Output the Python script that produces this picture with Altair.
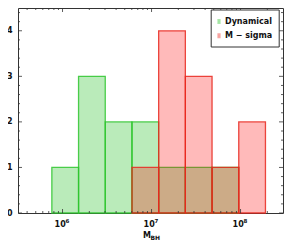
import altair as alt
import pandas as pd

# ---- data ----
edges_log = [5.88, 6.18, 6.48, 6.78, 7.08, 7.38, 7.68, 7.98, 8.28]
dyn_counts = [1, 3, 2, 2, 1, 1, 1, 0]
msig_counts = [0, 0, 0, 1, 4, 3, 1, 2]
series_names = ["Dynamical", "M − sigma"]
fill_colors = ["#00b400", "#ff0000"]
edge_colors = ["#2ec62e", "#e8281e"]

x_label_values = [1e6, 1e7, 1e8]
x_label_base = ["10", "10", "10"]
x_label_exp = ["6", "7", "8"]
x_minor = [4e5, 5e5, 6e5, 7e5, 8e5, 9e5,
           2e6, 3e6, 4e6, 5e6, 6e6, 7e6, 8e6, 9e6,
           2e7, 3e7, 4e7, 5e7, 6e7, 7e7, 8e7, 9e7, 2e8]
y_major = [0, 1, 2, 3, 4]
y_minor = [0.2, 0.4, 0.6, 0.8, 1.2, 1.4, 1.6, 1.8, 2.2, 2.4, 2.6, 2.8,
           3.2, 3.4, 3.6, 3.8, 4.2, 4.4]
x_domain = [3.16e5, 3.0e8]
y_domain = [0, 4.5]

W, H = 265, 205
FONT = "DejaVu Sans"
FRAME = "#333333"
TXT = "#111111"

rows = []
for name, counts in zip(series_names, [dyn_counts, msig_counts]):
    for i, c in enumerate(counts):
        if c > 0:
            rows.append({"series": name, "lo": 10 ** edges_log[i],
                         "hi": 10 ** edges_log[i + 1], "count": c, "base": 0})
bars_df = pd.DataFrame(rows)

xscale = alt.Scale(type="log", domain=x_domain, nice=False)
yscale = alt.Scale(domain=y_domain, nice=False)

yaxis = alt.Axis(
    values=y_major, ticks=False, domain=False, grid=False, title=None,
    labelFont=FONT, labelFontWeight="bold", labelFontSize=8,
    labelColor=TXT, labelPadding=6)

bars = alt.Chart(bars_df).mark_bar(
    fillOpacity=0.27, strokeWidth=1.3, strokeOpacity=0.85
).encode(
    x=alt.X("lo:Q", scale=xscale, axis=None),
    x2="hi:Q",
    y=alt.Y("count:Q", scale=yscale, axis=yaxis),
    y2="base:Q",
    fill=alt.Fill("series:N", scale=alt.Scale(domain=series_names, range=fill_colors),
                  legend=alt.Legend(title=None)),
    stroke=alt.Stroke("series:N", scale=alt.Scale(domain=series_names, range=edge_colors),
                      legend=alt.Legend(title=None)),
)

# inward ticks
xmaj_df = pd.DataFrame({"v": x_label_values})
xmin_df = pd.DataFrame({"v": x_minor})
ymaj_df = pd.DataFrame({"v": y_major})
ymin_df = pd.DataFrame({"v": y_minor})

def xticks(df, length):
    bottom = alt.Chart(df).mark_rule(color=FRAME, strokeWidth=0.8).encode(
        x=alt.X("v:Q", scale=xscale, axis=None),
        y=alt.value(H), y2=alt.value(H - length))
    top = alt.Chart(df).mark_rule(color=FRAME, strokeWidth=0.8).encode(
        x=alt.X("v:Q", scale=xscale, axis=None),
        y=alt.value(0), y2=alt.value(length))
    return bottom + top

def yticks(df, length):
    left = alt.Chart(df).mark_rule(color=FRAME, strokeWidth=0.8).encode(
        y=alt.Y("v:Q", scale=yscale, axis=yaxis),
        x=alt.value(0), x2=alt.value(length))
    right = alt.Chart(df).mark_rule(color=FRAME, strokeWidth=0.8).encode(
        y=alt.Y("v:Q", scale=yscale, axis=yaxis),
        x=alt.value(W), x2=alt.value(W - length))
    return left + right

# x tick labels as 10 with a superscript exponent
xlab_df = pd.DataFrame({"v": x_label_values, "b": x_label_base, "e": x_label_exp})
xlab_base = alt.Chart(xlab_df).mark_text(
    font=FONT, fontWeight="bold", fontSize=8, align="center", baseline="alphabetic",
    color=TXT, dx=-2.4).encode(
    x=alt.X("v:Q", scale=xscale, axis=None), y=alt.value(218.5), text="b:N")
xlab_exp = alt.Chart(xlab_df).mark_text(
    font=FONT, fontWeight="bold", fontSize=5.5, align="center", baseline="alphabetic",
    color=TXT, dx=4.8).encode(
    x=alt.X("v:Q", scale=xscale, axis=None), y=alt.value(214.6), text="e:N")

title_df = pd.DataFrame({"m": ["M"], "sub": ["BH"]})
title_m = alt.Chart(title_df).mark_text(
    font=FONT, fontWeight="bold", fontSize=8, align="center", baseline="alphabetic",
    color=TXT).encode(text="m:N", x=alt.value(129), y=alt.value(229.5))
title_sub = alt.Chart(title_df).mark_text(
    font=FONT, fontWeight="bold", fontSize=6, align="left", baseline="alphabetic",
    color=TXT).encode(text="sub:N", x=alt.value(132.5), y=alt.value(231.5))

chart = alt.layer(
    bars,
    xticks(xmaj_df, 4), xticks(xmin_df, 2),
    yticks(ymaj_df, 4), yticks(ymin_df, 2),
    xlab_base, xlab_exp,
    title_m, title_sub,
).properties(
    width=W, height=H,
    padding={"left": 10, "top": 0, "right": 8, "bottom": 30},
    autosize=alt.AutoSizeParams(type="none"),
    background="white",
).configure_view(
    stroke=FRAME, strokeWidth=1
).configure_legend(
    orient="none", legendX=192.7, legendY=1.5,
    strokeColor=FRAME, strokeWidth=1, fillColor="white",
    padding=6, cornerRadius=0,
    symbolType="M-0.2,-0.37H0.2V0.37H-0.2Z", symbolSize=100,
    symbolOffset=-3.7,
    symbolStrokeWidth=1.2, symbolOpacity=0.4,
    labelFont=FONT, labelFontWeight="bold", labelFontSize=8, labelColor=TXT,
    labelOffset=0, rowPadding=3.3,
)

chart.save("out.html", embed_options={"renderer": "svg", "actions": False})
